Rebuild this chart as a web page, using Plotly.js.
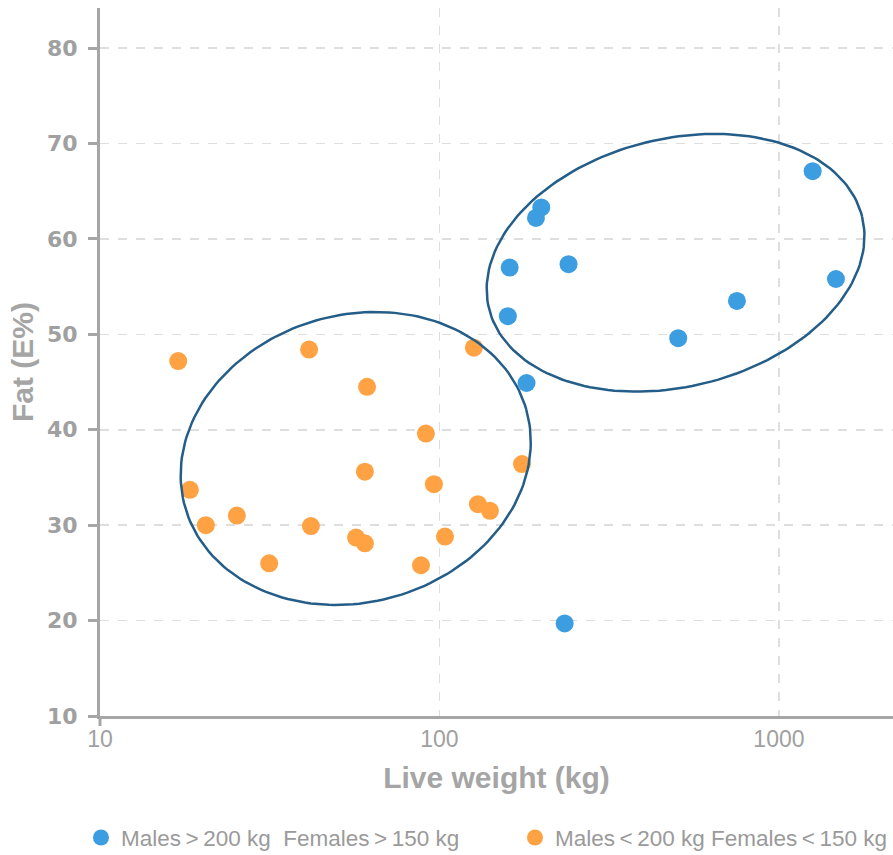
<!DOCTYPE html>
<html>
<head>
<meta charset="utf-8">
<script src="https://cdn.plot.ly/plotly-3.0.1.min.js"></script>
<style>html,body{margin:0;padding:0;background:#fff;}#chart{width:893px;height:855px;}</style>
</head>
<body>
<div id="chart"></div>
<script>
// Series: large animals (blue)
var heavyWeight = [1257, 199.5, 192.4, 161, 240, 1472, 752, 159, 505, 180.5, 233.8];
var heavyFat    = [67.1, 63.3, 62.2, 57.0, 57.35, 55.8, 53.5, 51.9, 49.6, 44.9, 19.7];
// Series: small animals (orange)
var lightWeight = [17.0, 18.4, 20.5, 25.3, 31.5, 41.3, 41.8, 61.2, 60.3, 56.8, 60.3, 91.2, 96.3, 88.2, 103.8, 126.3, 129.8, 140.8, 175];
var lightFat    = [47.2, 33.7, 30.0, 31.0, 26.0, 48.4, 29.9, 44.5, 35.6, 28.7, 28.1, 39.6, 34.3, 25.8, 28.8, 48.6, 32.2, 31.5, 36.4];

var seriesNames = ["Males\u2009>\u2009200 kg  Females\u2009>\u2009150 kg", "Males\u2009<\u2009200 kg Females\u2009<\u2009150 kg"];
var seriesColors = ["#3c9ee1", "#ffa243"];

var yTickVals = [10, 20, 30, 40, 50, 60, 70, 80];
var xTickVals = [10, 100, 1000];
var xTickText = ["10", "100", "1000"];

// Group outlines (ellipses): centre (kg, %) and semi-axis vectors in (log10 kg, %) units
var ellipseCenterX = [56.66, 496];
var ellipseCenterY = [36.99, 57.5];
var ellipseMajor = [[0.5022, 5.16], [0.5495, 4.83]];
var ellipseMinor = [[0.1173, -14.46], [0.0877, -12.61]];

function ellipseTrace(i) {
  var xs = [], ys = [];
  var lc = Math.log10(ellipseCenterX[i]);
  for (var k = 0; k <= 180; k++) {
    var t = 2 * Math.PI * k / 180;
    var c = Math.cos(t), s = Math.sin(t);
    xs.push(Math.pow(10, lc + ellipseMajor[i][0] * c + ellipseMinor[i][0] * s));
    ys.push(ellipseCenterY[i] + ellipseMajor[i][1] * c + ellipseMinor[i][1] * s);
  }
  return {x: xs, y: ys, type: 'scatter', mode: 'lines', showlegend: false, hoverinfo: 'skip',
    line: {color: '#245e88', width: 2.5}};
}

var traces = [
  {x: heavyWeight, y: heavyFat, type: 'scatter', mode: 'markers', name: seriesNames[0], legend: 'legend',
   marker: {color: seriesColors[0], size: 18}},
  {x: lightWeight, y: lightFat, type: 'scatter', mode: 'markers', name: seriesNames[1], legend: 'legend2',
   marker: {color: seriesColors[1], size: 18}},
  ellipseTrace(0),
  ellipseTrace(1)
];

var axisGray = '#a6a6a6';
var legendFont = {family: 'Liberation Sans, Arial, sans-serif', size: 22.5, color: '#9a9a9a'};
var layout = {
  width: 893, height: 855,
  margin: {l: 100, r: 0, t: 8, b: 139, pad: 0, autoexpand: false},
  paper_bgcolor: '#fff', plot_bgcolor: '#fff',
  showlegend: true,
  legend: {orientation: 'h', xref: 'container', yref: 'container', x: 0.0907, xanchor: 'left', y: 0.02, yanchor: 'middle',
    itemwidth: 30, font: legendFont},
  legend2: {orientation: 'h', xref: 'container', yref: 'container', x: 0.5767, xanchor: 'left', y: 0.02, yanchor: 'middle',
    itemwidth: 30, font: legendFont},
  xaxis: {type: 'log', range: [1, 3.336], tickvals: xTickVals, ticktext: xTickText,
    showline: true, linecolor: axisGray, linewidth: 3, ticks: '', zeroline: false,
    showgrid: true, gridcolor: '#dedede', griddash: 'dash', gridwidth: 1.5,
    tickfont: {family: 'Liberation Sans, sans-serif', size: 23, color: '#a0a0a0'},
    title: {text: 'Live weight (kg)', standoff: 17,
      font: {family: 'Liberation Sans, sans-serif', size: 30, color: '#a5a5a5', weight: 'bold'}}},
  yaxis: {range: [10, 84.2], tickvals: yTickVals, showline: true, linecolor: axisGray, linewidth: 3,
    ticks: 'outside', ticklen: 9, tickwidth: 3, tickcolor: axisGray, zeroline: false,
    ticklabelstandoff: 6,
    showgrid: true, gridcolor: '#dedede', griddash: 'dash', gridwidth: 1.5,
    tickfont: {family: 'DejaVu Sans, sans-serif', size: 22, color: '#a0a0a0', weight: 'bold'},
    title: {text: 'Fat (E%)', standoff: 5,
      font: {family: 'Liberation Sans, sans-serif', size: 30, color: '#a5a5a5', weight: 'bold'}}},
  shapes: [{type: 'line', xref: 'paper', yref: 'paper', x0: 0, x1: 0, y0: 0, y1: -10,
    ysizemode: 'pixel', yanchor: 0, line: {color: axisGray, width: 3}}]
};

Plotly.newPlot('chart', traces, layout, {displayModeBar: false, staticPlot: true});
</script>
</body>
</html>
